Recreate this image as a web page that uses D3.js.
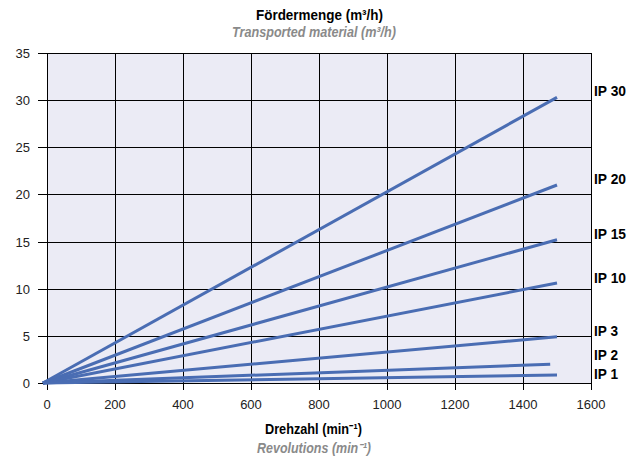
<!DOCTYPE html>
<html>
<head>
<meta charset="utf-8">
<script src="https://cdn.jsdelivr.net/npm/d3@7"></script>
<style>
body{margin:0;background:#fff;}
svg text{font-family:"Liberation Sans",Arial,sans-serif;}
</style>
</head>
<body>
<div id="chart"></div>
<script>
// series data
var seriesNames = ["IP 30","IP 20","IP 15","IP 10","IP 3","IP 2","IP 1"];
var rpmStart = [-12,-12,-12,-12,-12,-12,-12];
var rpmEnd = [1500,1500,1500,1500,1500,1480,1500];
var flowEnd = [30.3,21.0,15.2,10.6,4.9,2.0,0.85];
var labelY = [31.0,21.6,15.8,11.1,5.5,3.0,0.95];
var xTicks = [0,200,400,600,800,1000,1200,1400,1600];
var yTicks = [0,5,10,15,20,25,30,35];

var width=636, height=461;
var m={left:47,right:45,top:53,bottom:78};

var svg=d3.select("#chart").append("svg")
	.attr("width",width)
	.attr("height",height);

var x=d3.scaleLinear().domain([0,1600]).range([m.left,width-m.right]);
var y=d3.scaleLinear().domain([0,35]).range([height-m.bottom,m.top]);

//plot background
svg.append("rect")
	.attr("x",x(0)).attr("y",y(35))
	.attr("width",x(1600)-x(0)).attr("height",y(0)-y(35))
	.style("fill","#ebebf5");

//grid lines with tick stubs
svg.selectAll("line.vg").data(xTicks).enter().append("line")
	.attr("class","vg")
	.attr("x1",function(d){return Math.round(x(d))+0.5;})
	.attr("x2",function(d){return Math.round(x(d))+0.5;})
	.attr("y1",y(35)).attr("y2",y(0)+7)
	.style("stroke","#000").style("stroke-width",1);

svg.selectAll("line.hg").data(yTicks).enter().append("line")
	.attr("class","hg")
	.attr("x1",x(0)-9).attr("x2",x(1600))
	.attr("y1",function(d){return Math.round(y(d))+0.5;})
	.attr("y2",function(d){return Math.round(y(d))+0.5;})
	.style("stroke","#000").style("stroke-width",1);

//tick labels
svg.selectAll("text.xl").data(xTicks).enter().append("text")
	.attr("x",function(d){return x(d);})
	.attr("y",y(0)+26)
	.attr("text-anchor","middle")
	.style("font-size","13px").style("fill","#222")
	.text(function(d){return d;});

svg.selectAll("text.yl").data(yTicks).enter().append("text")
	.attr("x",x(0)-17)
	.attr("y",function(d){return y(d)+5;})
	.attr("text-anchor","end")
	.style("font-size","13px").style("fill","#222")
	.text(function(d){return d;});

//series lines
var lines=seriesNames.map(function(n,i){
	return {name:n,x0:rpmStart[i],x1:rpmEnd[i],v:flowEnd[i],ly:labelY[i]};
});

svg.selectAll("line.s").data(lines).enter().append("line")
	.attr("class","s")
	.attr("x1",function(d){return x(d.x0);})
	.attr("y1",y(0))
	.attr("x2",function(d){return x(d.x1);})
	.attr("y2",function(d){return y(d.v);})
	.style("stroke","#4a6db3").style("stroke-width",3);

svg.selectAll("text.sl").data(lines).enter().append("text")
	.attr("x",x(1600)+3)
	.attr("y",function(d){return y(d.ly)+5;})
	.attr("textLength",function(d){return d.name.length==5?32:24;})
	.attr("lengthAdjust","spacingAndGlyphs")
	.style("font-size","14px").style("font-weight","bold").style("fill","#000")
	.text(function(d){return d.name;});

//titles
function title(t,cx,by,w,italic){
	svg.append("text").attr("x",cx-w/2).attr("y",by)
		.attr("textLength",w).attr("lengthAdjust","spacingAndGlyphs")
		.style("font-size","14px").style("font-weight","bold")
		.style("font-style",italic?"italic":"normal")
		.style("fill",italic?"#8a8a8a":"#000")
		.text(t);
}
title("Fördermenge (m³/h)",319.5,20,127,false);
title("Transported material (m³/h)",314,37,164,true);
title("Drehzahl (min⁻¹)",313.5,434,97,false);
title("Revolutions (min⁻¹)",314,453,114,true);
</script>
</body>
</html>
